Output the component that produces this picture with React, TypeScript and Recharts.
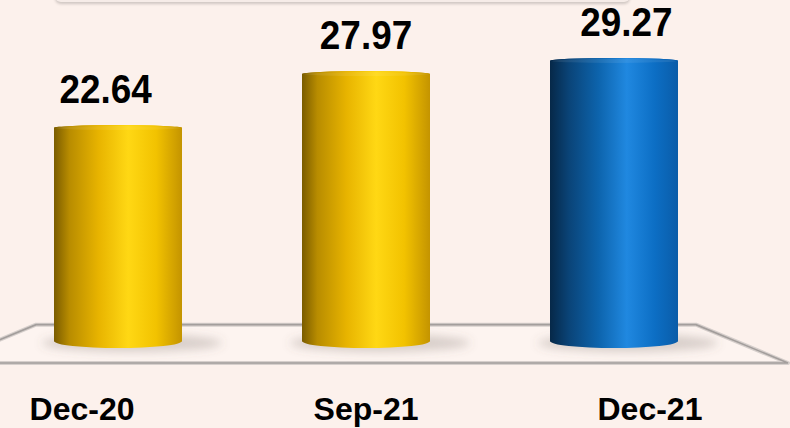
import React from "react";
import { Bar, BarChart, Cell, LabelList, ReferenceArea, XAxis, YAxis } from "recharts";

const periods = ["Dec-20", "Sep-21", "Dec-21"];
const values = [22.64, 27.97, 29.27];
const barFills = ["url(#gold)", "url(#gold)", "url(#blue)"];
const yTicks = [0, 35];

const data = periods.map((period, i) => ({ period, value: values[i] }));

const PLOT_W = 744;
const RIGHT_PAD = 52;
const CHART_H = 428;
const BG = "#FCF1EC";
const FONT = "'Liberation Sans', Arial, sans-serif";

// cylinder: flat-ish top ellipse, rounded bottom sitting on the floor
function Cylinder(props: any) {
  const { x, y, width, height, fill } = props;
  if (width == null || height == null) return null;
  const rx = width / 2;
  const cx = x + rx;
  const ryTop = 3;
  const ryBot = 7;
  const bottom = y + height - 13;
  const body = `M ${x} ${y + ryTop} L ${x} ${bottom} A ${rx} ${ryBot} 0 0 0 ${x + width} ${bottom} L ${x + width} ${y + ryTop} A ${rx} ${ryTop} 0 0 0 ${x} ${y + ryTop} Z`;
  return (
    <g>
      <ellipse cx={cx + 14} cy={bottom + 2} rx={rx + 26} ry={9} fill="rgba(110,95,90,0.26)" filter="url(#soft)" />
      <path d={body} fill={fill} />
      <ellipse cx={cx} cy={y + ryTop} rx={rx} ry={ryTop} fill={fill} />
      <ellipse cx={cx} cy={y + ryTop} rx={rx - 2} ry={ryTop - 1} fill="rgba(255,255,255,0.08)" />
    </g>
  );
}

function Floor(props: any) {
  const { x, y, width, height } = props;
  const front = y + height + 9;
  const pts = `${x + 42},${y} ${x + width - 42},${y} ${x + width + 50},${front} ${x - 50},${front}`;
  return (
    <g>
      <polygon points={pts} fill="#FDF4F0" stroke="#d6cfcc" strokeWidth={4} strokeLinejoin="round" />
      <polygon points={pts} fill="none" stroke="#a39e9c" strokeWidth={1.6} />
    </g>
  );
}

function ValueLabel(props: any) {
  const { x, y, width, value } = props;
  const c = x + width / 2;
  const lx = PLOT_W / 2 + (c - PLOT_W / 2) * 1.05;
  return (
    <g transform={`translate(${lx} ${y - 22}) scale(0.9 1)`}>
      <text x={0} y={0} textAnchor="middle" fontFamily={FONT} fontWeight="bold" fontSize={41} fill="#000">
        {value}
      </text>
    </g>
  );
}

function PeriodTick(props: any) {
  const { x, y, payload } = props;
  const tx = PLOT_W / 2 + (x - PLOT_W / 2) * 1.145;
  return (
    <text x={tx} y={y + 66} textAnchor="middle" fontFamily={FONT} fontWeight="bold" fontSize={32} fill="#000">
      {payload.value}
    </text>
  );
}

export default function App() {
  return (
    <div style={{ position: "absolute", left: 0, top: 0, width: 790, height: 428, background: BG, overflow: "hidden" }}>
      <div
        style={{
          position: "absolute",
          left: 55,
          top: -40,
          width: 575,
          height: 42,
          borderRadius: 6,
          background: "#F6ECE8",
          boxShadow: "0 2px 3px rgba(0,0,0,0.18)",
        }}
      />
      <div style={{ position: "absolute", left: -6, top: 0 }}>
        <BarChart
          width={PLOT_W + RIGHT_PAD}
          height={CHART_H}
          data={data}
          margin={{ top: 0, right: RIGHT_PAD, bottom: 0, left: 0 }}
          barSize={128}
        >
          <defs>
            <linearGradient id="gold" x1="0" y1="0" x2="1" y2="0">
              <stop offset="0" stopColor="#7a5c00" />
              <stop offset="0.12" stopColor="#b88c00" />
              <stop offset="0.35" stopColor="#e8b400" />
              <stop offset="0.58" stopColor="#ffd814" />
              <stop offset="0.8" stopColor="#f2c200" />
              <stop offset="1" stopColor="#c49400" />
            </linearGradient>
            <linearGradient id="blue" x1="0" y1="0" x2="1" y2="0">
              <stop offset="0" stopColor="#062848" />
              <stop offset="0.15" stopColor="#0a4478" />
              <stop offset="0.38" stopColor="#0d64ad" />
              <stop offset="0.6" stopColor="#2088e0" />
              <stop offset="0.82" stopColor="#0c6ec4" />
              <stop offset="1" stopColor="#0a5ca8" />
            </linearGradient>
            <filter id="soft" x="-30%" y="-100%" width="160%" height="300%">
              <feGaussianBlur stdDeviation="5" />
            </filter>
          </defs>
          <XAxis dataKey="period" axisLine={false} tickLine={false} tickSize={0} tickMargin={0} height={74} tick={<PeriodTick />} interval={0} />
          <YAxis hide domain={[yTicks[0], yTicks[1]]} ticks={yTicks} />
          <ReferenceArea y1={0} y2={2.9} shape={<Floor />} ifOverflow="visible" />
          <Bar dataKey="value" shape={<Cylinder />} isAnimationActive={false}>
            {data.map((d, i) => (
              <Cell key={d.period} fill={barFills[i]} />
            ))}
            <LabelList dataKey="value" content={<ValueLabel />} />
          </Bar>
        </BarChart>
      </div>
    </div>
  );
}
